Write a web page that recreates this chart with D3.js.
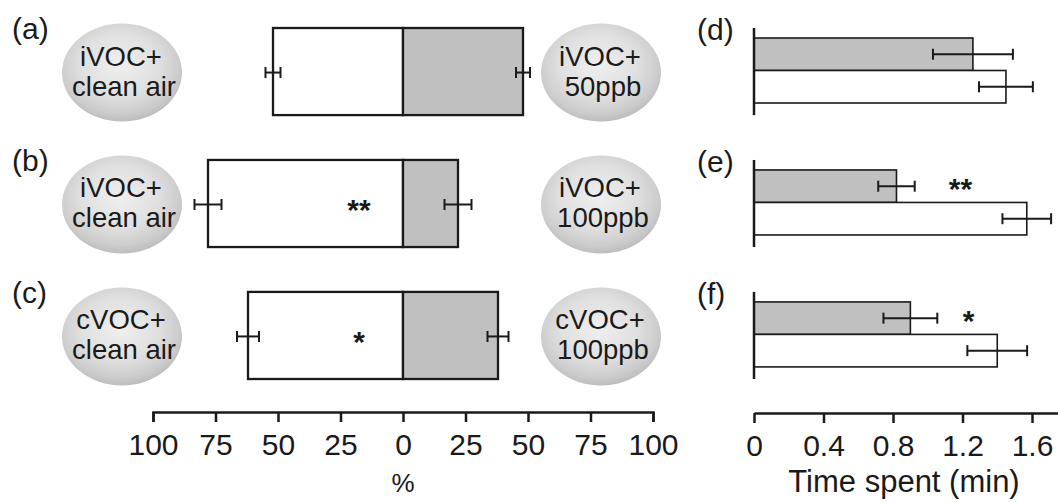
<!DOCTYPE html>
<html><head><meta charset="utf-8">
<script src="https://cdn.jsdelivr.net/npm/d3@7"></script>
<style>
html,body{margin:0;padding:0;background:#fff;}
svg{display:block;font-family:"Liberation Sans",Arial,sans-serif;}
</style></head>
<body><svg id="chart" width="1058" height="502"></svg>
<script>
// ---- data ----
const panels = ["a", "b", "c"];
const leftPanelLabels = ["(a)", "(b)", "(c)"];
const rightPanelLabels = ["(d)", "(e)", "(f)"];
const cleanStimulus = [["iVOC+", "clean air"], ["iVOC+", "clean air"], ["cVOC+", "clean air"]];
const vocStimulus = [["iVOC+", "50ppb"], ["iVOC+", "100ppb"], ["cVOC+", "100ppb"]];
const cleanPct = [52, 78, 62];
const cleanPctErr = [3.0, 5.4, 4.4];
const vocPct = [48, 22, 38];
const vocPctErr = [2.8, 5.4, 4.2];
const sigMarks = ["", "**", "*"];
const vocTime = [1.26, 0.82, 0.90];
const vocTimeErr = [0.23, 0.105, 0.155];
const cleanTime = [1.45, 1.57, 1.40];
const cleanTimeErr = [0.155, 0.14, 0.172];
const pctTicks = [-100, -75, -50, -25, 0, 25, 50, 75, 100];
const timeTicks = [0, 0.4, 0.8, 1.2, 1.6];

const svg = d3.select("#chart");
const ink = "#1a1a1a";

// gradient for pebble-like ellipses
const defs = svg.append("defs");
const grad = defs.append("radialGradient").attr("id", "pebble")
  .attr("cx", "48%").attr("cy", "42%").attr("r", "58%");
grad.append("stop").attr("offset", "0%").attr("stop-color", "#efefef");
grad.append("stop").attr("offset", "55%").attr("stop-color", "#e0e0e0");
grad.append("stop").attr("offset", "85%").attr("stop-color", "#cdcdcd");
grad.append("stop").attr("offset", "100%").attr("stop-color", "#bdbdbd");

// ---- scales ----
const y = d3.scaleBand().domain(panels).range([28, 379]).paddingInner(0.34).paddingOuter(0);
const xL = d3.scaleLinear().domain([-100, 100]).range([153, 653]);
const xR = d3.scaleLinear().domain([0, 1.8]).range([754, 754 + 1.8 * 173.75]);
const sub = d3.scaleBand().domain(["voc", "clean"]).range([10, 75]);

const rows = panels.map((p, i) => ({p, i}));

// ---- left panels ----
const gl = svg.append("g");
const rowL = gl.selectAll("g.row").data(rows).join("g").attr("class", "row")
  .attr("transform", d => `translate(0,${y(d.p)})`);
const bw = y.bandwidth();

rowL.append("text").attr("x", 12).attr("y", 11).attr("font-size", 30).attr("fill", ink)
  .text(d => leftPanelLabels[d.i]);

function pebble(sel, cx, lines) {
  sel.append("ellipse").attr("cx", cx).attr("cy", bw / 2 + 1).attr("rx", 60).attr("ry", 49)
    .attr("fill", "url(#pebble)");
  const t = sel.append("text").attr("text-anchor", "middle").attr("font-size", 27.5).attr("fill", ink);
  t.append("tspan").attr("x", cx - 1).attr("y", bw / 2 - 6).text(d => lines[d.i][0]);
  t.append("tspan").attr("x", cx + 2).attr("y", bw / 2 + 24).text(d => lines[d.i][1]);
}
rowL.call(s => pebble(s, 122, cleanStimulus));
rowL.call(s => pebble(s, 601, vocStimulus));

rowL.append("rect").attr("x", d => xL(-cleanPct[d.i])).attr("y", 0)
  .attr("width", d => xL(0) - xL(-cleanPct[d.i])).attr("height", bw)
  .attr("fill", "#fff").attr("stroke", ink).attr("stroke-width", 2.3);
rowL.append("rect").attr("x", xL(0)).attr("y", 0)
  .attr("width", d => xL(vocPct[d.i]) - xL(0)).attr("height", bw)
  .attr("fill", "#c0c0c0").attr("stroke", ink).attr("stroke-width", 2.3);

function errBar(sel, x0, x1, yc, cap) {
  sel.append("line").attr("x1", x0).attr("x2", x1).attr("y1", yc).attr("y2", yc)
    .attr("stroke", ink).attr("stroke-width", 2);
  sel.append("line").attr("x1", x0).attr("x2", x0).attr("y1", yc - cap).attr("y2", yc + cap)
    .attr("stroke", ink).attr("stroke-width", 2);
  sel.append("line").attr("x1", x1).attr("x2", x1).attr("y1", yc - cap).attr("y2", yc + cap)
    .attr("stroke", ink).attr("stroke-width", 2);
}
rowL.each(function(d) {
  const g = d3.select(this);
  errBar(g, xL(-cleanPct[d.i] - cleanPctErr[d.i]), xL(-cleanPct[d.i] + cleanPctErr[d.i]), bw / 2 + 1, 5.5);
  errBar(g, xL(vocPct[d.i] - vocPctErr[d.i]), xL(vocPct[d.i] + vocPctErr[d.i]), bw / 2 + 1, 5.5);
});
rowL.append("text").attr("x", xL(0) - 44).attr("y", bw / 2 + 17).attr("text-anchor", "middle")
  .attr("font-size", 30).attr("font-weight", "bold").attr("fill", ink).text(d => sigMarks[d.i]);

const axL = d3.axisBottom(xL).tickValues(pctTicks).tickSize(10).tickSizeOuter(10)
  .tickFormat(v => Math.abs(v));
const gaxL = svg.append("g").attr("transform", "translate(0,412)").call(axL);
gaxL.select(".domain").attr("stroke", ink).attr("stroke-width", 2.5).attr("fill", "none");
gaxL.selectAll(".tick line").attr("stroke", ink).attr("stroke-width", 2.5);
gaxL.selectAll(".tick text").attr("font-size", 30).attr("fill", ink).attr("y", 22)
  .attr("font-family", "Liberation Sans, Arial, sans-serif");
svg.append("text").attr("x", xL(0)).attr("y", 492).attr("text-anchor", "middle")
  .attr("font-size", 26).attr("fill", ink).text("%");

// ---- right panels ----
const rowR = svg.append("g").selectAll("g.rrow").data(rows).join("g").attr("class", "rrow")
  .attr("transform", d => `translate(0,${y(d.p)})`);
rowR.append("text").attr("x", 697).attr("y", 12).attr("font-size", 30).attr("fill", ink)
  .text(d => rightPanelLabels[d.i]);
rowR.append("rect").attr("x", xR(0)).attr("y", sub("voc"))
  .attr("width", d => xR(vocTime[d.i]) - xR(0)).attr("height", sub.bandwidth())
  .attr("fill", "#c0c0c0").attr("stroke", ink).attr("stroke-width", 1.6);
rowR.append("rect").attr("x", xR(0)).attr("y", sub("clean"))
  .attr("width", d => xR(cleanTime[d.i]) - xR(0)).attr("height", sub.bandwidth())
  .attr("fill", "#fff").attr("stroke", ink).attr("stroke-width", 1.6);
rowR.each(function(d) {
  const g = d3.select(this);
  errBar(g, xR(vocTime[d.i] - vocTimeErr[d.i]), xR(vocTime[d.i] + vocTimeErr[d.i]),
    sub("voc") + sub.bandwidth() / 2, 5.5);
  errBar(g, xR(cleanTime[d.i] - cleanTimeErr[d.i]), xR(cleanTime[d.i] + cleanTimeErr[d.i]),
    sub("clean") + sub.bandwidth() / 2, 5.5);
});
rowR.append("line").attr("x1", xR(0)).attr("x2", xR(0)).attr("y1", 0).attr("y2", bw)
  .attr("stroke", ink).attr("stroke-width", 2.5);
rowR.append("text").attr("x", d => xR(1.2) + (d.i === 1 ? -2 : 6))
  .attr("y", sub("voc") + sub.bandwidth() / 2 + 13)
  .attr("text-anchor", "middle").attr("font-size", 30).attr("font-weight", "bold").attr("fill", ink)
  .text(d => sigMarks[d.i]);

const axR = d3.axisBottom(xR).tickValues(timeTicks).tickSize(10).tickSizeOuter(0)
  .tickFormat(v => v === 0 ? "0" : d3.format(".1f")(v));
const gaxR = svg.append("g").attr("transform", "translate(0,413)").call(axR);
gaxR.select(".domain").attr("stroke", ink).attr("stroke-width", 2.5).attr("fill", "none");
gaxR.selectAll(".tick line").attr("stroke", ink).attr("stroke-width", 2.5);
gaxR.selectAll(".tick text").attr("font-size", 30).attr("fill", ink).attr("y", 22)
  .attr("font-family", "Liberation Sans, Arial, sans-serif");
svg.append("text").attr("x", 904).attr("y", 492).attr("text-anchor", "middle")
  .attr("font-size", 31).attr("fill", ink).text("Time spent (min)");
</script></body></html>
